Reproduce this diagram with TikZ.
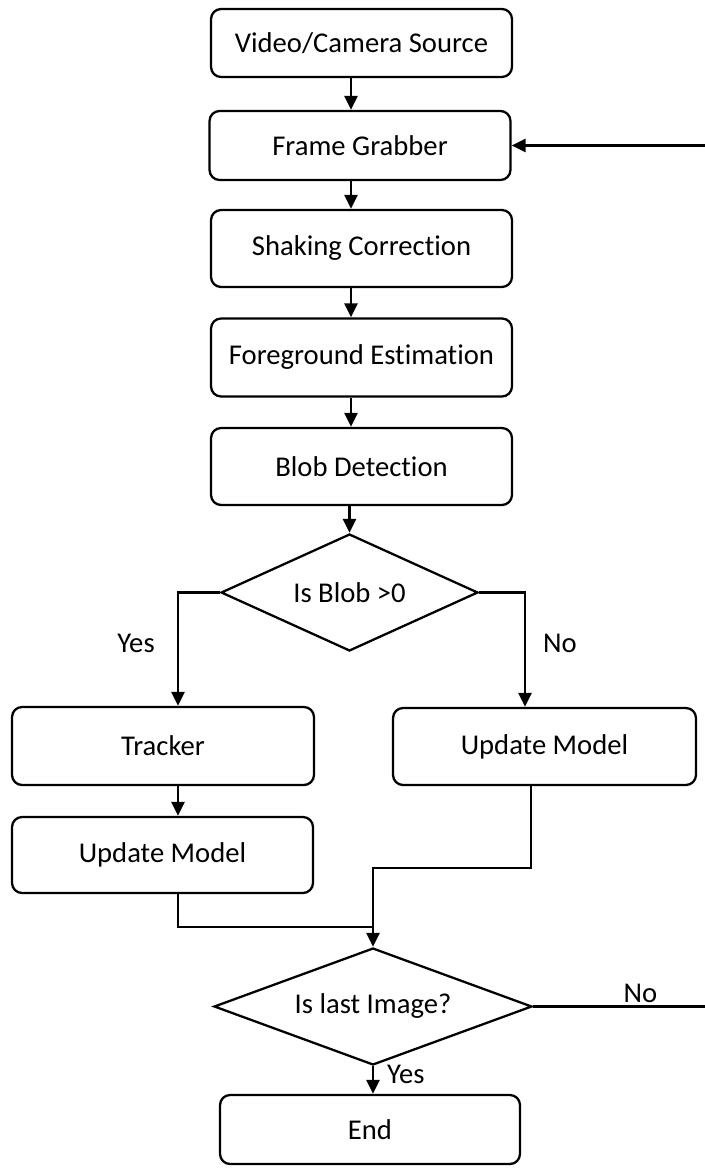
\documentclass[tikz,border=0pt]{standalone}
\usepackage{fontspec}
\setmainfont{Carlito}[Ligatures=NoCommon]
\usetikzlibrary{arrows.meta,shapes.geometric,positioning,calc}

\begin{document}
\begin{tikzpicture}[x=0.02cm, y=-0.02cm,
    stage/.style={draw, rounded corners=0.2cm, line width=1.3pt, minimum width=6.02cm, minimum height=1.4cm, align=center, font=\fontsize{16.3}{19}\selectfont},
    query/.style={draw, diamond, line width=1.3pt, inner sep=0pt, aspect=2.4, align=center, font=\fontsize{16.3}{19}\selectfont},
    lbl/.style={font=\fontsize{16.3}{19}\selectfont},
    arr/.style={-{Triangle[length=8pt, width=7.4pt]}, line width=1.4pt},
    wire/.style={line width=1.4pt}
]
\useasboundingbox (0,0) rectangle (705,1169);

\node[stage, minimum height=1.36cm] (src) at (361.5,43) {Video/Camera Source};
\node[stage, minimum height=1.38cm] (grab) at (360,145.5) {Frame Grabber};
\node[stage, minimum height=1.54cm] (shake) at (361.5,248.5) {Shaking Correction};
\node[stage, minimum height=1.56cm] (fore) at (361.5,357.5) {Foreground Estimation};
\node[stage, minimum height=1.54cm] (blob) at (361.5,466.5) {Blob Detection};
\node[query, minimum width=5.14cm, minimum height=2.34cm] (isblob) at (349.5,592.5) {Is Blob >0};
\node[stage, minimum width=6.04cm, minimum height=1.56cm] (track) at (163,746) {Tracker};
\node[stage, minimum width=6.06cm, minimum height=1.54cm] (updR) at (544.5,746.5) {Update Model};
\node[stage, minimum height=1.52cm] (updL) at (162.5,855) {Update Model};
\node[query, minimum width=6.36cm, minimum height=2.34cm] (islast) at (373,1006.5) {Is last Image?};
\node[stage, minimum width=6cm, minimum height=1.38cm] (endn) at (370,1129.5) {End};

\node[lbl] (yes1) at (136,643) {Yes};
\node[lbl] (no1) at (560,643) {No};

\coordinate (spine) at (351,0);
\coordinate (lcol) at (178,0);
\coordinate (rcol) at (525,0);
\coordinate (rdrop) at (531,0);
\coordinate (jr) at (373,868);
\coordinate (jl) at (373,927);
\coordinate (rim) at (712,0);

\draw[arr] (src.south -| spine) -- (grab.north -| spine);
\draw[arr] (grab.south -| spine) -- (shake.north -| spine);
\draw[arr] (shake.south -| spine) -- (fore.north -| spine);
\draw[arr] (fore.south -| spine) -- (blob.north -| spine);
\draw[arr] (blob.south -| isblob.north) -- (isblob.north);

\draw[arr] (isblob.west) -| (track.north -| lcol);
\draw[arr] (isblob.east) -| (updR.north -| rcol);
\draw[arr] (track.south -| lcol) -- (updL.north -| lcol);

\draw[arr] (updR.south -| rdrop) |- (jr) -- (islast.north);
\draw[wire] (updL.south -| lcol) |- (jl);

\draw[arr] (islast.south) -- node[lbl, right=4pt, pos=0.3] {Yes} (islast.south |- endn.north);
\draw[arr] (islast.east) -- node[lbl, above=-2pt, pos=0.6] {No} (rim |- islast.east) |- (grab.east);
\end{tikzpicture}
\end{document}
